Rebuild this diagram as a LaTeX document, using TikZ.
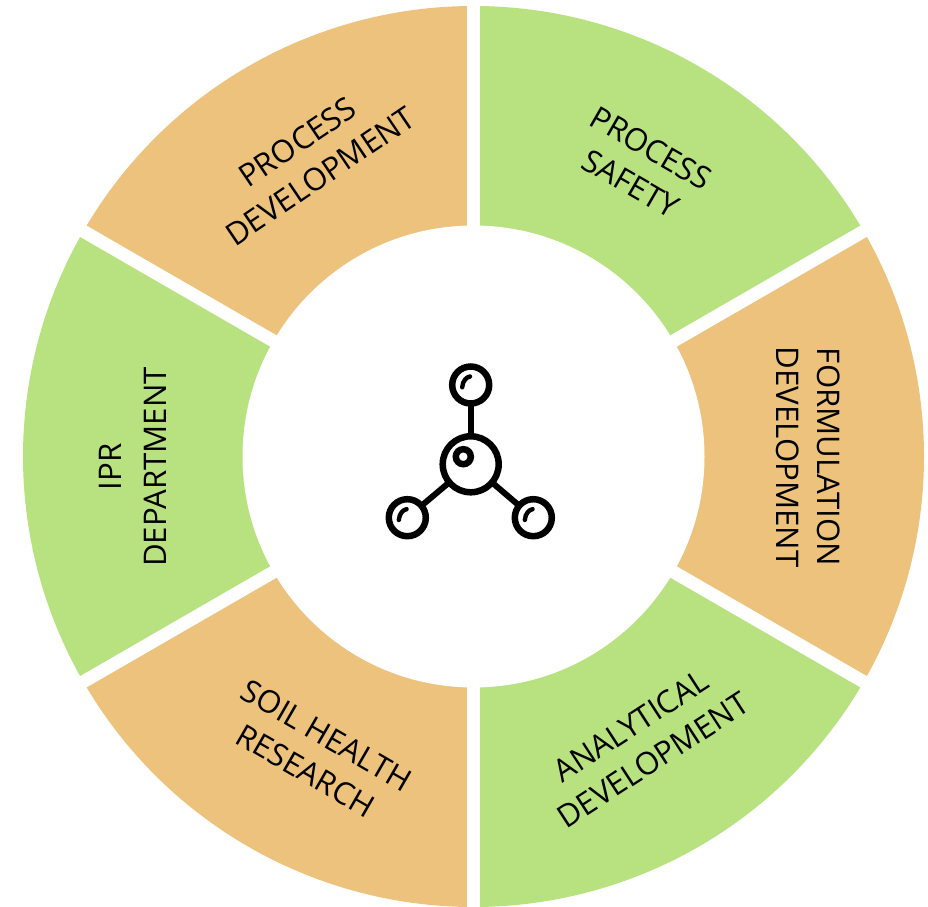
\documentclass[tikz,border=0pt]{standalone}
\usepackage{fontspec}
\setmainfont{Open Sans}
\definecolor{segG}{HTML}{B7E27F}
\definecolor{segO}{HTML}{ECC27D}
\tikzset{
  seglabel/.style={align=center,font=\fontsize{31.2}{41}\selectfont,text=black,inner sep=0pt},
  atom/.style={circle,draw=black,line width=6.5pt,fill=white,inner sep=0pt,outer sep=0pt},
  smallatom/.style={atom,minimum size=37pt},
  bondline/.style={line width=6pt,draw=black},
  glint/.style={line width=4.4pt,draw=black,line cap=round},
  gapline/.style={line width=13pt,draw=white}
}
\begin{document}
\begin{tikzpicture}[x=1pt,y=1pt]
\useasboundingbox (0,0) rectangle (928,906);
\coordinate (hub) at (473.5,449.5);
\begin{scope}[shift={(473.5,449.5)}]
  \foreach \a/\c in {30/segG,-30/segO,-90/segG,-150/segO,-210/segG,90/segO}{
    \fill[\c] (0pt,0pt) -- (\a:450.5pt) arc[start angle=\a,delta angle=60,radius=450.5pt] -- cycle;
  }
  \foreach \a in {30,90,150}{
    \draw[gapline] (\a:460pt) -- (\a+180:460pt);
  }
  \fill[white] (0pt,0pt) circle[radius=231pt];
\end{scope}

\node[seglabel,rotate=-30] (safety) at (641,740) {PROCESS\\SAFETY};
\node[seglabel,rotate=-90] (formulation) at (808,449) {FORMULATION\\DEVELOPMENT};
\node[seglabel,rotate=33] (analytical) at (642,163) {ANALYTICAL\\DEVELOPMENT};
\node[seglabel,rotate=-30] (soil) at (316,153) {SOIL HEALTH\\RESEARCH};
\node[seglabel,rotate=90,font=\fontsize{31.2}{45}\selectfont] (ipr) at (133,439) {IPR\\DEPARTMENT};
\node[seglabel,rotate=34] (development) at (309,747) {PROCESS\\DEVELOPMENT};

\node[atom,minimum size=56pt] (core) at (470.7,441.7) {};
\node[atom,minimum size=15pt] (nucleus) at (463.3,449.3) {};
\node[smallatom] (top) at (470.7,521) {};
\node[smallatom] (left) at (407.3,388.3) {};
\node[smallatom] (right) at (533.3,388.3) {};
\draw[bondline] (core) -- (top);
\draw[bondline] (core) -- (left);
\draw[bondline] (core) -- (right);
\foreach \n in {top,left,right}{
  \draw[glint] ([shift={(-8.5pt,-2.3pt)}]\n.center) .. controls ([shift={(-8pt,4.5pt)}]\n.center) and ([shift={(-4pt,8pt)}]\n.center) .. ([shift={(-0.7pt,8.5pt)}]\n.center);
}
\end{tikzpicture}
\end{document}
